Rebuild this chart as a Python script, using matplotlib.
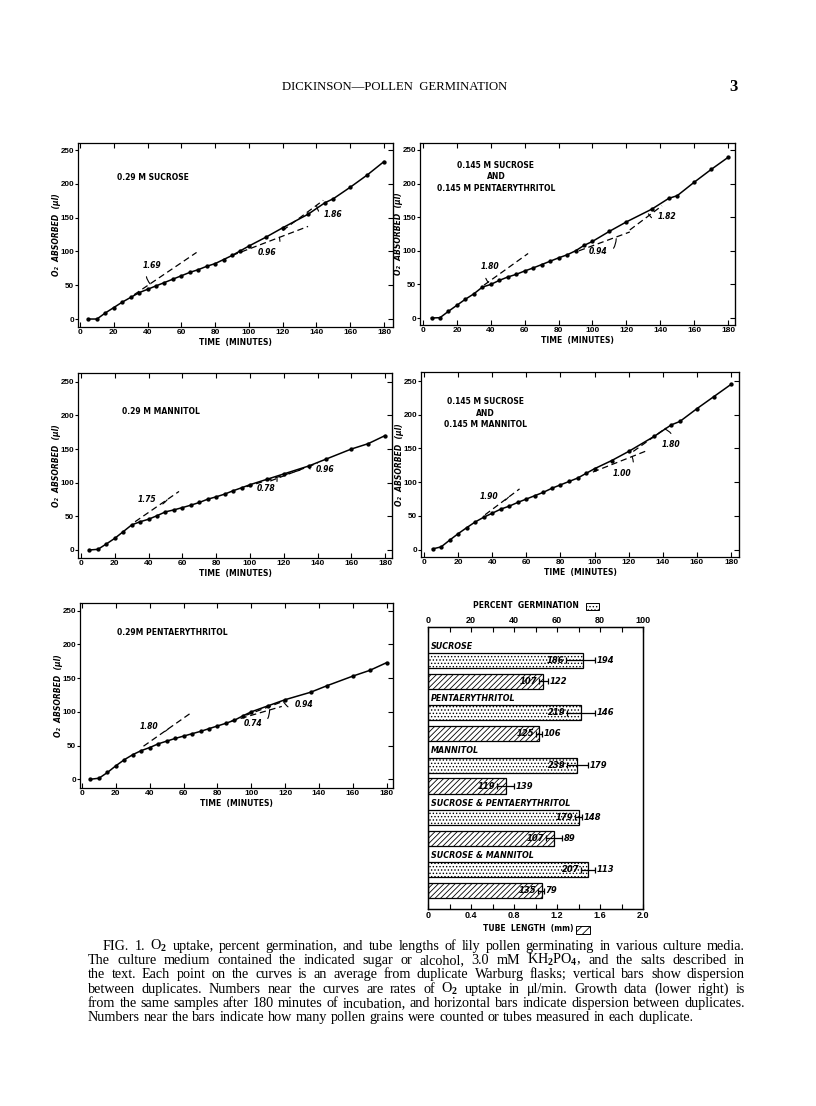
import matplotlib
matplotlib.use('Agg')
import matplotlib.pyplot as plt
import matplotlib.transforms as mtransforms
from matplotlib.patches import Rectangle

W, H = 816, 1106
plt.rcParams['font.family'] = 'DejaVu Sans'
plt.rcParams['font.weight'] = 'bold'
plt.rcParams['hatch.linewidth'] = 0.6
plt.rcParams['mathtext.fontset'] = 'custom'
plt.rcParams['mathtext.rm'] = 'Liberation Serif'
plt.rcParams['mathtext.it'] = 'Liberation Serif:italic'

# ---------------- data: O2 uptake curves ----------------
T_A = [5, 10, 15, 20, 25, 30, 35, 40, 45, 50, 55, 60, 65, 70, 75, 80, 85, 90, 95, 100,
       110, 120, 135, 145, 150, 160, 170, 180]
T_B = [5, 10, 15, 20, 25, 30, 35, 40, 45, 50, 55, 60, 65, 70, 75, 80, 85, 90, 95, 100,
       110, 120, 135, 145, 160, 170, 180]

o2_sucrose = [0, 0, 9, 17, 25, 32, 39, 44, 49, 54, 59, 64, 69, 73, 78, 82, 88, 94, 101, 108,
              121, 135, 155, 172, 178, 195, 213, 233]
o2_suc_pent = [0, 0.5, 10, 19, 28, 36, 46, 50, 56, 61, 65, 70, 74.5, 79.5, 84.5, 89.5, 94, 100, 108, 114,
               129, 143, 162, 178, 182, 202, 221, 239]
o2_mannitol = [0, 1, 9, 17.4, 27.3, 37.3, 42, 45.7, 51, 56.7, 59.6, 63, 66.6, 70.6, 75.5, 79, 83, 88, 92.4, 97,
               105, 113, 125, 135, 150, 158, 170]
o2_suc_mann = [1, 4, 14, 23.6, 32.5, 41, 48, 54, 60, 64.5, 70, 75, 80, 85, 91, 96, 101, 106, 113, 120,
               132, 145.6, 168, 185, 190, 209, 227, 245]
o2_pent = [0, 1.5, 10, 20, 29, 36.5, 42.5, 47, 52.5, 56.5, 60.5, 64, 67.5, 71, 75, 79, 83, 87.5, 94, 100,
           109, 118, 129, 139, 153, 161.5, 173]

# tangent (rate) lines: (t0, y0, t1, y1)
tan_sucrose = [(32, 36, 69, 98.5), (90, 94, 135, 137), (120, 131, 144, 175.6)]
tan_suc_pent = [(36, 49, 62, 96), (92, 100, 122, 128), (122, 131, 141, 167)]
tan_mannitol = [(32, 42, 58, 87), (98, 94, 130, 119), (112, 102.5, 140, 129)]
tan_suc_mann = [(35.8, 51.7, 56, 90), (99, 115, 131, 147), (122.7, 145.6, 142, 180.5)]
tan_pent = [(36.3, 49, 64.7, 99), (88, 86, 118, 108), (97, 95, 120, 116.6)]

# rate labels: (text, label t, label y, hook t, hook y, curvature)
rate_sucrose = [('1.69', 42.5, 79.5, 41.5, 52, 0.5), ('0.96', 111, 98, 118, 121, 0.6),
                ('1.86', 150, 155, 140, 168, -0.6)]
rate_suc_pent = [('1.80', 39.4, 76, 38.5, 53, 0.5), ('0.94', 103.5, 98.4, 114, 118, 0.6),
                 ('1.82', 144, 151.6, 133, 155, -0.6)]
rate_mannitol = [('1.75', 39, 74.5, 51, 74.6, 0.6), ('0.78', 109.6, 91, 116, 107, 0.6),
                 ('0.96', 144.5, 119, 134.7, 124, -0.6)]
rate_suc_mann = [('1.90', 38.3, 79, 49.5, 77.7, 0.6), ('1.00', 116, 113, 122, 138, 0.6),
                 ('1.80', 145, 155.7, 141, 179, 0.5)]
rate_pent = [('1.80', 39.8, 78, 51, 74.9, 0.6), ('0.74', 101, 83, 110.8, 102.9, 0.6),
             ('0.94', 131, 111.5, 119, 115, -0.6)]

# ---------------- data: growth bars ----------------
media = ['SUCROSE', 'PENTAERYTHRITOL', 'MANNITOL', 'SUCROSE & PENTAERYTHRITOL', 'SUCROSE & MANNITOL']
germ_pct = [72, 71, 69.2, 70.2, 74.4]
germ_lo = [64.0, 64.7, 64.8, 68.4, 71.2]
germ_hi = [77.7, 77.7, 74.6, 71.6, 77.7]
germ_n1 = [186, 219, 239, 179, 207]
germ_n2 = [194, 146, 179, 148, 113]
tube_mm = [1.07, 1.03, 0.725, 1.175, 1.06]
tube_lo = [1.03, 1.00, 0.64, 1.10, 1.025]
tube_hi = [1.12, 1.06, 0.80, 1.245, 1.075]
tube_n1 = [107, 125, 119, 107, 135]
tube_n2 = [122, 106, 139, 89, 79]

caption_lines = [
    "FIG. 1.  O$_2$ uptake, percent germination, and tube lengths of lily pollen germinating in various culture media.",
    "The culture medium contained the indicated sugar or alcohol, 3.0 mM KH$_2$PO$_4$, and the salts described in",
    "the text.  Each point on the curves is an average from duplicate Warburg flasks;  vertical bars show dispersion",
    "between duplicates.  Numbers near the curves are rates of O$_2$ uptake in \u03bcl/min.  Growth data (lower right) is",
    "from the same samples after 180 minutes of incubation, and horizontal bars indicate dispersion between duplicates.",
    "Numbers near the bars indicate how many pollen grains were counted or tubes measured in each duplicate.",
]

TICK_FONT = 'Liberation Sans'

fig = plt.figure(figsize=(W / 100, H / 100), dpi=100)
fig.patch.set_facecolor('white')


def px_axes(l, t, r, b):
    return fig.add_axes([l / W, 1 - b / H, (r - l) / W, (b - t) / H])


def tick_font(ax):
    for lbl in ax.get_xticklabels() + ax.get_yticklabels():
        lbl.set_family(TICK_FONT)
        lbl.set_fontweight('bold')


def draw_panel(rect, xlim, ylim, t, y, title, title_xy, title_ha, tangents, rates):
    ax = px_axes(*rect)
    aw = rect[2] - rect[0]
    ah = rect[3] - rect[1]
    ax.plot(t, y, '-', color='black', lw=1.1, marker='o', ms=2.1)
    for (t0, y0, t1, y1) in tangents:
        ax.plot([t0, t1], [y0, y1], ls=(0, (5, 3)), color='black', lw=0.9)
    for (txt, tx, ty, hx, hy, rad) in rates:
        ax.annotate(txt, xy=(hx, hy), xytext=(tx, ty), ha='center', va='center',
                    fontsize=5.5, fontweight='bold', style='italic',
                    arrowprops=dict(arrowstyle='-', lw=0.8, color='black',
                                    connectionstyle='arc3,rad=%s' % rad,
                                    shrinkA=3, shrinkB=0))
    ax.text(title_xy[0], title_xy[1], title, ha=title_ha, va='center', fontsize=5.5,
            fontweight='bold', linespacing=1.35, multialignment='center')
    ax.set_xlim(*xlim)
    ax.set_ylim(*ylim)
    ax.set_xticks(range(0, 181, 20))
    ax.set_yticks(range(0, 251, 50))
    ax.tick_params(axis='x', direction='in', top=True, length=3.5, width=0.8, pad=1.5, labelsize=6)
    ax.tick_params(axis='y', direction='out', length=2.5, width=0.8, pad=0.4, labelsize=5.8)
    tick_font(ax)
    sec = ax.secondary_yaxis('right')
    sec.set_yticks(range(0, 251, 50))
    sec.tick_params(direction='in', length=3.5, width=0.8, labelright=False)
    for s in ax.spines.values():
        s.set_linewidth(0.9)
    ax.set_xlabel('TIME  (MINUTES)', fontsize=5.5, fontweight='bold', va='top')
    ax.xaxis.set_label_coords(0.5, -11.0 / ah)
    ax.set_ylabel('O\u2082  ABSORBED  (\u00b5l)', fontsize=5.5, fontweight='bold', style='italic')
    ax.yaxis.set_label_coords(-17.0 / aw, 0.5)
    return ax


draw_panel((78, 143, 393, 327), (-1.2, 185.3), (-11.8, 260.4), T_A, o2_sucrose,
           '0.29 M SUCROSE', (22, 209), 'left', tan_sucrose, rate_sucrose)
draw_panel((420, 143, 735, 325), (-1.8, 184.1), (-10.4, 260.4), T_A, o2_suc_pent,
           '0.145 M SUCROSE\nAND\n0.145 M PENTAERYTHRITOL', (43, 210), 'center', tan_suc_pent, rate_suc_pent)
draw_panel((78, 373, 392, 558), (-1.8, 184.1), (-11.9, 263), T_B, o2_mannitol,
           '0.29 M MANNITOL', (24, 206), 'left', tan_mannitol, rate_mannitol)
draw_panel((421, 372, 739, 557), (-1.8, 184.7), (-11, 263.4), T_A, o2_suc_mann,
           '0.145 M SUCROSE\nAND\n0.145 M MANNITOL', (35.8, 202), 'center', tan_suc_mann, rate_suc_mann)
draw_panel((80, 603, 393, 788), (-1.2, 183.7), (-13, 261.4), T_B, o2_pent,
           '0.29M PENTAERYTHRITOL', (20.6, 217.5), 'left', tan_pent, rate_pent)

# ---------------- growth bar chart ----------------
axb = px_axes(428, 627, 643, 909)
axg = axb.twiny()
n = len(media)
pos_g = [i for i in range(n)]
pos_t = [i + 0.40 for i in range(n)]
pos_l = [i - 0.27 for i in range(n)]
bh = 0.29

axg.barh(pos_g, germ_pct, height=bh, color='white', edgecolor='black', lw=0.9, hatch='.....')
axb.barh(pos_t, tube_mm, height=bh, color='white', edgecolor='black', lw=0.9, hatch='//////')
axg.errorbar(germ_pct, pos_g,
             xerr=[[m - lo for m, lo in zip(germ_pct, germ_lo)], [hi - m for m, hi in zip(germ_pct, germ_hi)]],
             fmt='none', ecolor='black', elinewidth=0.9, capsize=2.2, capthick=0.9)
axb.errorbar(tube_mm, pos_t,
             xerr=[[m - lo for m, lo in zip(tube_mm, tube_lo)], [hi - m for m, hi in zip(tube_mm, tube_hi)]],
             fmt='none', ecolor='black', elinewidth=0.9, capsize=2.2, capthick=0.9)
for i in range(n):
    axg.annotate(str(germ_n1[i]), (germ_lo[i], pos_g[i]), xytext=(-1.2, 0), textcoords='offset points',
                 ha='right', va='center', fontsize=6, style='italic', fontweight='bold')
    axg.annotate(str(germ_n2[i]), (germ_hi[i], pos_g[i]), xytext=(1.2, 0), textcoords='offset points',
                 ha='left', va='center', fontsize=6, style='italic', fontweight='bold')
    axb.annotate(str(tube_n1[i]), (tube_lo[i], pos_t[i]), xytext=(-1.2, 0), textcoords='offset points',
                 ha='right', va='center', fontsize=6, style='italic', fontweight='bold')
    axb.annotate(str(tube_n2[i]), (tube_hi[i], pos_t[i]), xytext=(1.2, 0), textcoords='offset points',
                 ha='left', va='center', fontsize=6, style='italic', fontweight='bold')
    axb.text(0.015, pos_l[i], media[i], transform=mtransforms.blended_transform_factory(axb.transAxes, axb.transData),
             ha='left', va='center', fontsize=5.8, style='italic', fontweight='bold')

axb.set_ylim(4.75, -0.64)
axb.set_xlim(0, 2.0)
axg.set_xlim(0, 100)
axb.set_yticks([])
axb.set_xticks([0, 0.4, 0.8, 1.2, 1.6, 2.0])
axb.set_xticklabels(['0', '0.4', '0.8', '1.2', '1.6', '2.0'])
axb.set_xticks([0.2, 0.6, 1.0, 1.4, 1.8], minor=True)
axb.tick_params(axis='x', which='both', direction='in', length=3.5, width=0.8, pad=1.5, labelsize=6.5)
axg.set_xticks(range(0, 101, 20))
axg.set_xticks(range(10, 100, 20), minor=True)
axg.tick_params(axis='x', which='both', direction='in', length=3.5, width=0.8, pad=1.5, labelsize=6.5)
tick_font(axb)
tick_font(axg)
for a in (axb, axg):
    for s in a.spines.values():
        s.set_linewidth(0.9)

fig.text(526 / W, 1 - 605 / H, 'PERCENT  GERMINATION', ha='center', va='center', fontsize=5.5, fontweight='bold')
fig.patches.append(Rectangle((586 / W, 1 - 610 / H), 13 / W, 7 / H, transform=fig.transFigure,
                             facecolor='white', edgecolor='black', lw=0.7, hatch='.....'))
fig.text(528 / W, 1 - 929 / H, 'TUBE  LENGTH  (mm)', ha='center', va='center', fontsize=5.5, fontweight='bold')
fig.patches.append(Rectangle((576 / W, 1 - 934 / H), 14 / W, 8 / H, transform=fig.transFigure,
                             facecolor='white', edgecolor='black', lw=0.7, hatch='////'))

# ---------------- header ----------------
fig.text(395 / W, 1 - 87 / H, 'DICKINSON\u2014POLLEN  GERMINATION', ha='center', va='center',
         fontsize=9.2, family='Liberation Serif', fontweight='normal')
fig.text(734 / W, 1 - 87 / H, '3', ha='center', va='center', fontsize=12,
         family='Liberation Serif', fontweight='bold')

# ---------------- caption (justified) ----------------
renderer = fig.canvas.get_renderer()
cap_left, cap_right = 88, 745
cap_y0, cap_dy = 950, 14.2
for k, line in enumerate(caption_lines):
    words = line.split()
    x0 = 103 if k == 0 else cap_left
    yy = 1 - (cap_y0 + k * cap_dy) / H
    texts = [fig.text(0, yy, w_, ha='left', va='baseline', fontsize=10.2,
                      family='Liberation Serif', fontweight='normal') for w_ in words]
    widths = [t_.get_window_extent(renderer).width for t_ in texts]
    if k < len(caption_lines) - 1:
        gap = (cap_right - x0 - sum(widths)) / (len(words) - 1)
    else:
        gap = 3.6
    x = x0
    for t_, w_ in zip(texts, widths):
        t_.set_x(x / W)
        x += w_ + gap

fig.savefig('out.png', dpi=100, facecolor='white')
